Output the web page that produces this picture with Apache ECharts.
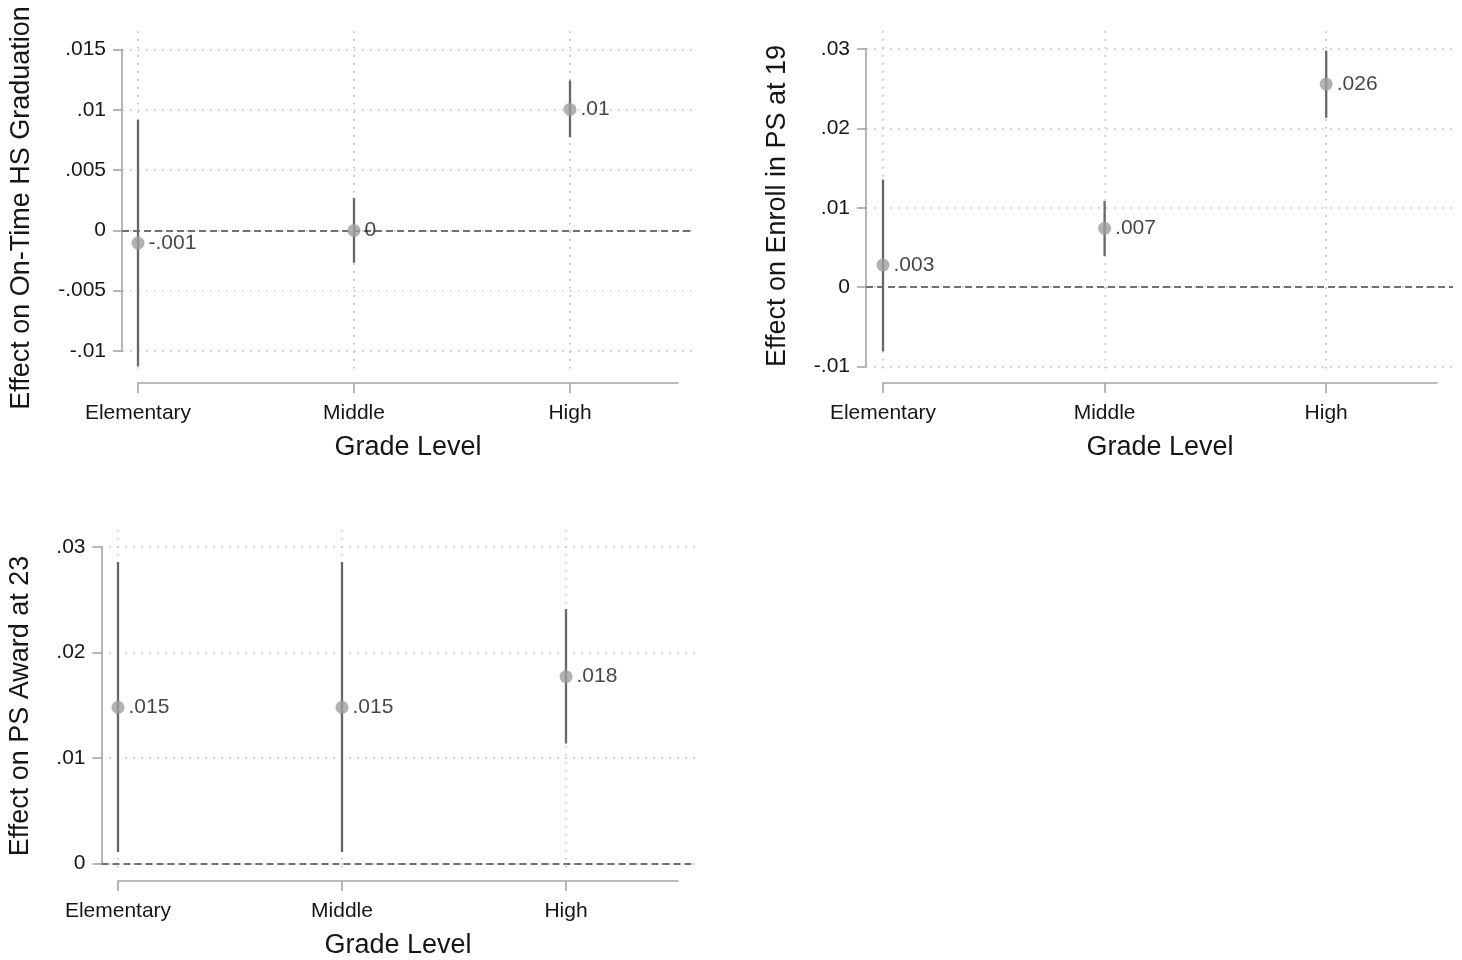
<!DOCTYPE html>
<html><head><meta charset="utf-8">
<script src="https://cdn.jsdelivr.net/npm/echarts@6/dist/echarts.min.js"></script>
<style>html,body{margin:0;padding:0;background:#fff}#c{width:1462px;height:960px}</style>
</head><body><div id="c"></div>
<script>
// ---------- data ----------
const categories = ['Elementary', 'Middle', 'High'];
const catPos = [1, 2, 3];

const gradEst = [-0.00105, 0.0, 0.01003];
const gradLo = [-0.01127, -0.00268, 0.00773];
const gradHi = [0.00917, 0.00268, 0.01243];
const gradLabels = ['-.001', '0', '.01'];
const gradTicks = [-0.01, -0.005, 0, 0.005, 0.01, 0.015];
const gradTickLabels = ['-.01', '-.005', '0', '.005', '.01', '.015'];

const enrollEst = [0.00278, 0.0074, 0.02558];
const enrollLo = [-0.00808, 0.00391, 0.02133];
const enrollHi = [0.01355, 0.01085, 0.02979];
const enrollLabels = ['.003', '.007', '.026'];
const enrollTicks = [-0.01, 0, 0.01, 0.02, 0.03];
const enrollTickLabels = ['-.01', '0', '.01', '.02', '.03'];

const awardEst = [0.0148, 0.0148, 0.01771];
const awardLo = [0.0011, 0.0011, 0.01137];
const awardHi = [0.02858, 0.02858, 0.02412];
const awardLabels = ['.015', '.015', '.018'];
const awardTicks = [0, 0.01, 0.02, 0.03];
const awardTickLabels = ['0', '.01', '.02', '.03'];

const yTitles = ['Effect on On-Time HS Graduation', 'Effect on Enroll in PS at 19', 'Effect on PS Award at 23'];
const xTitle = 'Grade Level';

// ---------- layout (pixels) ----------
const layouts = [
  {yAxisX: 122, gridRight: 692, yTop: 49.5, yBottom: 351, xStart: 138, xEnd: 678, vTop: 31, vBottom: 375, xAxisY: 383, titleX: 22, titleY: 208},
  {yAxisX: 866, gridRight: 1453, yTop: 49, yBottom: 366.5, xStart: 883, xEnd: 1437, vTop: 31, vBottom: 375, xAxisY: 383, titleX: 778, titleY: 206},
  {yAxisX: 101.5, gridRight: 695, yTop: 547, yBottom: 863.5, xStart: 118, xEnd: 678, vTop: 530, vBottom: 873, xAxisY: 881, titleX: 21, titleY: 706}
];

const panels = [
  {est: gradEst, lo: gradLo, hi: gradHi, labels: gradLabels, ticks: gradTicks, tickLabels: gradTickLabels, interval: 0.005},
  {est: enrollEst, lo: enrollLo, hi: enrollHi, labels: enrollLabels, ticks: enrollTicks, tickLabels: enrollTickLabels, interval: 0.01},
  {est: awardEst, lo: awardLo, hi: awardHi, labels: awardLabels, ticks: awardTicks, tickLabels: awardTickLabels, interval: 0.01}
];

// ---------- styles ----------
const FONT = 'Liberation Sans, Arial, Helvetica, sans-serif';
const TEXT = '#161616';
const AXIS = '#a4a4a4';
const dotLine = {color: '#bdbdbd', width: 1.5, type: [1.5, 6.5]};

const grid = [], xAxis = [], yAxis = [], series = [], graphic = [];

panels.forEach((p, k) => {
  const L = layouts[k];
  const yMin = p.ticks[0], yMax = p.ticks[p.ticks.length - 1];
  const gY = grid.length, gV = gY + 1, gP = gY + 2;
  grid.push({left: L.yAxisX, top: L.yTop, width: L.gridRight - L.yAxisX, height: L.yBottom - L.yTop});
  grid.push({left: L.xStart, top: L.vTop, width: L.xEnd - L.xStart, height: L.vBottom - L.vTop});
  grid.push({left: L.xStart, top: L.yTop, width: L.xEnd - L.xStart, height: L.yBottom - L.yTop});

  // grid Y: y axis + horizontal grid lines
  xAxis.push({gridIndex: gY, type: 'value', min: 0, max: 1, show: false, axisLine: {onZero: false}});
  yAxis.push({
    gridIndex: gY, type: 'value', min: yMin, max: yMax, interval: p.interval,
    axisLine: {show: true, onZero: false, lineStyle: {color: AXIS, width: 1.6}},
    axisTick: {show: true, length: 9, lineStyle: {color: AXIS, width: 1.6}},
    axisLabel: {margin: 16, fontSize: 21, color: TEXT, fontFamily: FONT,
      formatter: v => { const i = p.ticks.findIndex(t => Math.abs(t - v) < 1e-9); return i >= 0 ? p.tickLabels[i] : ''; }},
    splitLine: {show: true, lineStyle: dotLine}
  });
  // grid V: vertical grid lines
  xAxis.push({
    gridIndex: gV, type: 'value', min: 1, max: 3.5, interval: 1,
    axisLine: {show: false, onZero: false}, axisTick: {show: false}, axisLabel: {show: false},
    splitLine: {show: true, showMinLine: true, showMaxLine: false, lineStyle: dotLine}
  });
  yAxis.push({gridIndex: gV, type: 'value', min: 0, max: 1, show: false, axisLine: {onZero: false}});
  // grid P: data + x axis
  xAxis.push({
    gridIndex: gP, type: 'value', min: 1, max: 3.5, interval: 1, offset: L.xAxisY - L.yBottom,
    axisLine: {show: true, onZero: false, lineStyle: {color: AXIS, width: 1.6}},
    axisTick: {show: true, length: 10, customValues: catPos, lineStyle: {color: AXIS, width: 1.6}},
    axisLabel: {customValues: catPos, margin: 20, fontSize: 21, color: TEXT, fontFamily: FONT,
      formatter: v => { const i = catPos.indexOf(v); return i >= 0 ? categories[i] : ''; }},
    splitLine: {show: false},
    name: xTitle, nameLocation: 'middle', nameGap: 51,
    nameTextStyle: {fontSize: 27, color: TEXT, fontFamily: FONT}
  });
  yAxis.push({gridIndex: gP, type: 'value', min: yMin, max: yMax, show: false, axisLine: {onZero: false}});

  // zero reference line
  series.push({
    type: 'line', xAxisIndex: gY, yAxisIndex: gY, data: [], silent: true,
    markLine: {silent: true, symbol: ['none', 'none'], label: {show: false},
      lineStyle: {color: '#707070', width: 1.8, type: [7, 4]}, data: [{yAxis: 0}]}, z: 3
  });
  // confidence intervals
  series.push({
    type: 'custom', xAxisIndex: gP, yAxisIndex: gP, silent: true, z: 4,
    data: catPos.map((x, i) => [x, p.lo[i], p.hi[i]]),
    encode: {x: 0, y: [1, 2]},
    renderItem: (params, api) => {
      const a = api.coord([api.value(0), api.value(1)]);
      const b = api.coord([api.value(0), api.value(2)]);
      return {type: 'line', shape: {x1: a[0], y1: a[1], x2: b[0], y2: b[1]},
        style: {stroke: '#676767', lineWidth: 2.3}};
    }
  });
  // point estimates
  series.push({
    type: 'scatter', xAxisIndex: gP, yAxisIndex: gP, silent: true, z: 5,
    symbol: 'circle', symbolSize: 13,
    itemStyle: {color: '#9d9d9d'},
    data: catPos.map((x, i) => [x, p.est[i]]),
    label: {show: true, position: 'right', distance: 4, fontSize: 21, color: TEXT, fontFamily: FONT,
      formatter: prm => p.labels[prm.dataIndex]}
  });

  graphic.push({type: 'text', x: L.titleX, y: L.titleY, rotation: Math.PI / 2, silent: true,
    style: {text: yTitles[k], fontSize: 27, fontFamily: FONT, fill: TEXT, align: 'center', verticalAlign: 'middle'}});
});

const chart = echarts.init(document.getElementById('c'), null, {renderer: 'canvas'});
chart.setOption({
  backgroundColor: '#ffffff',
  animation: false,
  textStyle: {fontFamily: FONT},
  grid, xAxis, yAxis, series, graphic
});
</script>
</body></html>
